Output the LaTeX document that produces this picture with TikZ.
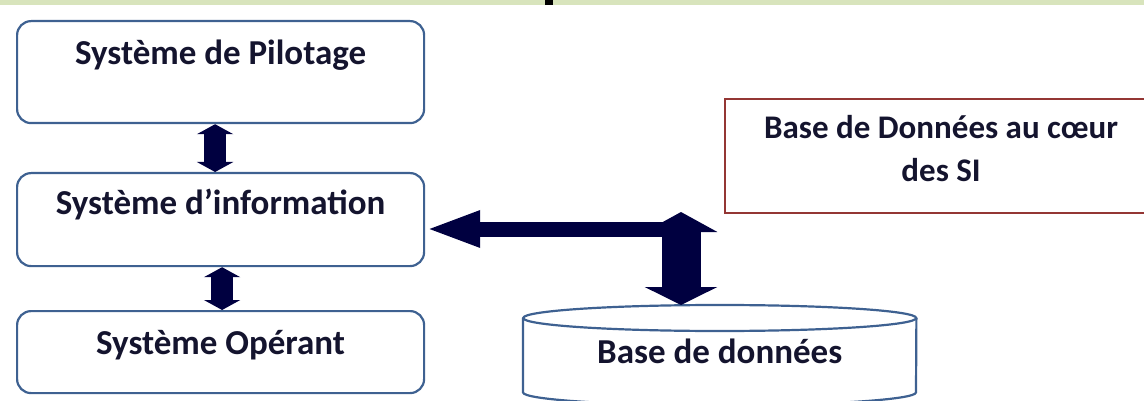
\documentclass[tikz,border=0pt]{standalone}
\usepackage{fontspec}
\setmainfont{Carlito}
\usetikzlibrary{arrows.meta,positioning}

\definecolor{bandgreen}{HTML}{D8E4BC}
\definecolor{boxblue}{HTML}{3E6191}
\definecolor{boxred}{HTML}{943634}
\definecolor{arrownavy}{HTML}{000040}
\definecolor{textdark}{HTML}{14142E}

\begin{document}
\begin{tikzpicture}[x=1pt,y=-1pt,
  sysbox/.style={draw=boxblue,line width=2.2pt,rounded corners=14pt,inner sep=0pt,
    minimum width=407pt,anchor=north west,text=textdark,
    font=\bfseries\fontsize{35}{42}\selectfont},
  updown/.style={arrownavy,line width=22pt,
    {Triangle[length=10pt,width=36pt]}-{Triangle[length=10pt,width=36pt]}}]
  \useasboundingbox (0,0) rectangle (1144,401);
  % band at the top
  \fill[bandgreen] (0,0) rectangle (1144,5);
  \fill[black] (545,0) rectangle (553,5);

  % the three systems
  \node[sysbox,text height=43pt,text depth=59pt] (pilot) at (16,20) {Système de Pilotage};
  \node[sysbox,text height=41pt,text depth=52pt] (info) at (16,172) {Système d’information};
  \node[sysbox,text height=43pt,text depth=39pt] (oper) at (16,310) {Système Opérant};
  \draw[updown] ([xshift=-5.5pt]pilot.south) -- ([xshift=-5.5pt]info.north);
  \draw[updown] ([xshift=1.5pt]info.south) -- ([xshift=1.5pt]oper.north);

  % title box
  \node[draw=boxred,line width=2.2pt,inner sep=0pt,anchor=north west,minimum width=432pt,
    align=center,text height=82pt,text depth=32pt,text=textdark,
    font=\bfseries\fontsize{33}{43}\selectfont] (coeur) at (724,98)
    {Base de Données au cœur\\des SI};

  % database
  \node[inner sep=0pt,minimum width=393pt,text height=58pt,text depth=29pt,
    anchor=north west,text=textdark,font=\bfseries\fontsize{35}{42}\selectfont]
    (db) at (523,305) {Base de données};
  \draw[boxblue,line width=2.2pt] ([yshift=-13pt]db.north) ellipse [x radius=196.5pt,y radius=13pt];
  \draw[boxblue,line width=2.2pt] ([yshift=-13pt]db.north west) -- (db.south west)
    arc[start angle=180,end angle=360,x radius=196.5pt,y radius=13pt] -- ([yshift=-13pt]db.north east);

  % links to the database
  \coordinate (hub) at (681,212);
  \coordinate (junction) at (681,229);
  \draw[arrownavy,line width=15pt,-{Triangle[length=55pt,width=33pt]}] (junction) -- (info.east |- junction);
  \draw[arrownavy,line width=39pt,{Triangle[length=20pt,width=72pt]}-{Triangle[length=18pt,width=72pt]}]
    (hub) -- (db.north -| hub);
\end{tikzpicture}
\end{document}
